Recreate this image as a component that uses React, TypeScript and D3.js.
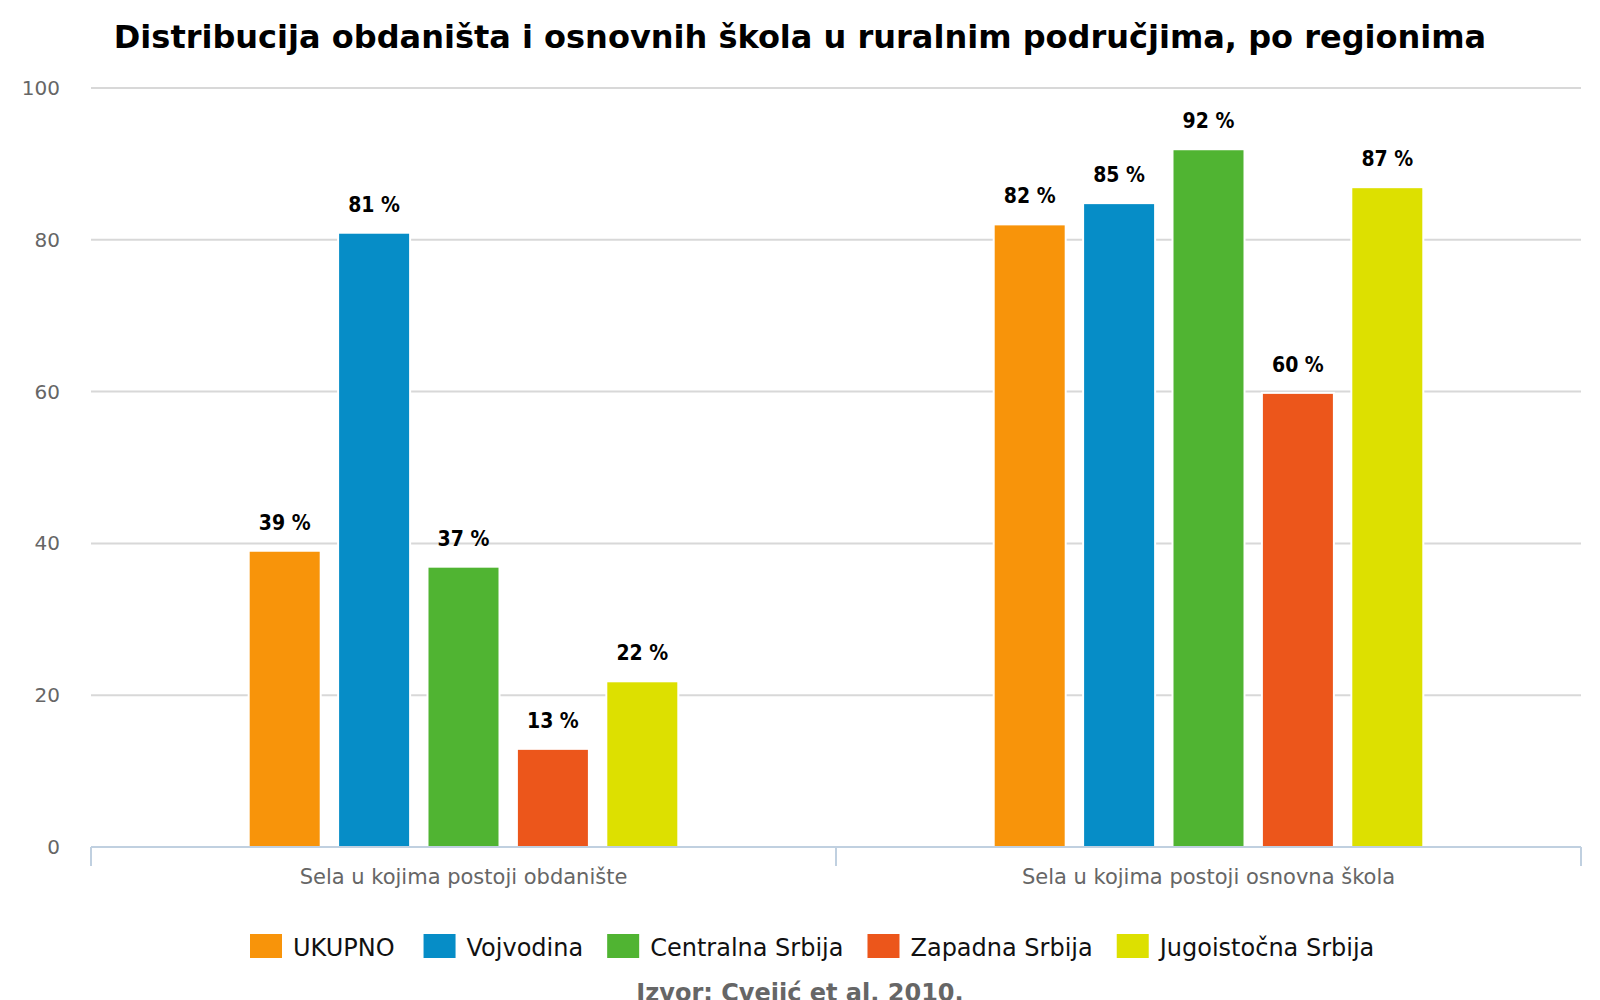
import React, { useEffect, useRef } from "react";
import * as d3 from "d3";

const TITLE = "Distribucija obdaništa i osnovnih škola u ruralnim područjima, po regionima";
const SOURCE = "Izvor: Cvejić et al, 2010.";
const categories = ["Sela u kojima postoji obdanište", "Sela u kojima postoji osnovna škola"];
const seriesNames = ["UKUPNO", "Vojvodina", "Centralna Srbija", "Zapadna Srbija", "Jugoistočna Srbija"];
const seriesColors = ["#F8940A", "#068DC7", "#50B432", "#EC561B", "#DDE000"];
// values per series: [obdanište, osnovna škola]
const ukupno = [38.9, 81.9];
const vojvodina = [80.8, 84.7];
const centralna = [36.8, 91.8];
const zapadna = [12.8, 59.7];
const jugoistocna = [21.7, 86.8];
const yTicks = [0, 20, 40, 60, 80, 100];

const seriesValues = [ukupno, vojvodina, centralna, zapadna, jugoistocna];

export default function App() {
  const ref = useRef<SVGSVGElement | null>(null);

  useEffect(() => {
    const svg = d3.select(ref.current);
    svg.selectAll("*").remove();
    const W = 1600;
    const left = 91, right = 1581, top = 88, bottom = 847;

    const y = d3.scaleLinear().domain([0, 100]).range([bottom, top]);
    const x0 = d3.scaleBand<string>().domain(categories).range([left, right]).paddingInner(0).paddingOuter(0);
    const bw = x0.bandwidth();
    const x1 = d3.scaleBand<string>().domain(seriesNames).range([bw * 0.2, bw * 0.8]).paddingInner(0.217).paddingOuter(0.1085);

    // title
    svg.append("text")
      .attr("x", W / 2).attr("y", 48)
      .attr("text-anchor", "middle")
      .attr("font-family", "DejaVu Sans")
      .attr("font-weight", "bold")
      .attr("font-size", 32)
      .attr("fill", "#000")
      .text(TITLE);

    // gridlines
    svg.append("g").selectAll("line")
      .data(yTicks.filter(t => t > 0))
      .join("line")
      .attr("x1", left).attr("x2", right)
      .attr("y1", d => y(d)).attr("y2", d => y(d))
      .attr("stroke", "#D8D8D8").attr("stroke-width", 2);

    // y tick labels
    svg.append("g").selectAll("text")
      .data(yTicks)
      .join("text")
      .attr("x", 60).attr("y", d => y(d) + 7)
      .attr("text-anchor", "end")
      .attr("font-family", "DejaVu Sans")
      .attr("font-size", 20)
      .attr("fill", "#666")
      .text(d => String(d));

    // bars
    const gBars = svg.append("g");
    seriesNames.forEach((s, si) => {
      const vals = seriesValues[si];
      categories.forEach((c, ci) => {
        const bx = (x0(c) as number) + (x1(s) as number);
        const bwid = x1.bandwidth();
        const by = y(vals[ci]);
        gBars.append("rect")
          .attr("x", bx - 2).attr("y", by - 2)
          .attr("width", bwid + 4).attr("height", bottom - by + 2)
          .attr("fill", "#fff");
        gBars.append("rect")
          .attr("x", bx).attr("y", by)
          .attr("width", bwid).attr("height", bottom - by)
          .attr("fill", seriesColors[si]);
        gBars.append("text")
          .attr("x", bx + bwid / 2).attr("y", by - 22)
          .attr("text-anchor", "middle")
          .attr("font-family", "DejaVu Sans Condensed, DejaVu Sans")
          .attr("font-weight", "bold")
          .attr("font-size", 21)
          .attr("fill", "#000")
          .text(`${d3.format(".0f")(vals[ci])} %`);
      });
    });

    // x axis
    svg.append("line")
      .attr("x1", left).attr("x2", right)
      .attr("y1", bottom).attr("y2", bottom)
      .attr("stroke", "#C0D0E0").attr("stroke-width", 2);
    const tickXs = [left, ...categories.map(c => (x0(c) as number) + bw)];
    svg.append("g").selectAll("line")
      .data(tickXs)
      .join("line")
      .attr("x1", d => d).attr("x2", d => d)
      .attr("y1", bottom).attr("y2", bottom + 19)
      .attr("stroke", "#C0D0E0").attr("stroke-width", 2);
    svg.append("g").selectAll("text")
      .data(categories)
      .join("text")
      .attr("x", d => (x0(d) as number) + bw / 2)
      .attr("y", 884)
      .attr("text-anchor", "middle")
      .attr("font-family", "DejaVu Sans")
      .attr("font-size", 21)
      .attr("fill", "#666")
      .text(d => d);

    // legend
    const gLeg = svg.append("g");
    let lx = 250;
    seriesNames.forEach((s, si) => {
      gLeg.append("rect")
        .attr("x", lx).attr("y", 934)
        .attr("width", 32).attr("height", 24)
        .attr("fill", seriesColors[si]);
      const t = gLeg.append("text")
        .attr("x", lx + 43).attr("y", 956)
        .attr("font-family", "DejaVu Sans")
        .attr("font-size", 24)
        .attr("fill", "#111")
        .text(s);
      const tw = (t.node() as SVGTextElement).getComputedTextLength();
      lx += 43 + tw + (si === 0 ? 29 : 24);
    });

    // source (cut by the bottom edge, as in the reference)
    svg.append("text")
      .attr("x", W / 2).attr("y", 1001)
      .attr("text-anchor", "middle")
      .attr("font-family", "DejaVu Sans")
      .attr("font-weight", "bold")
      .attr("font-size", 24)
      .attr("fill", "#666")
      .text(SOURCE);
  }, []);

  return (
    <div style={{ position: "absolute", left: 0, top: 0, width: 1600, height: 1000, overflow: "hidden", background: "#fff" }}>
      <svg ref={ref} width={1600} height={1000} style={{ display: "block" }} />
    </div>
  );
}
